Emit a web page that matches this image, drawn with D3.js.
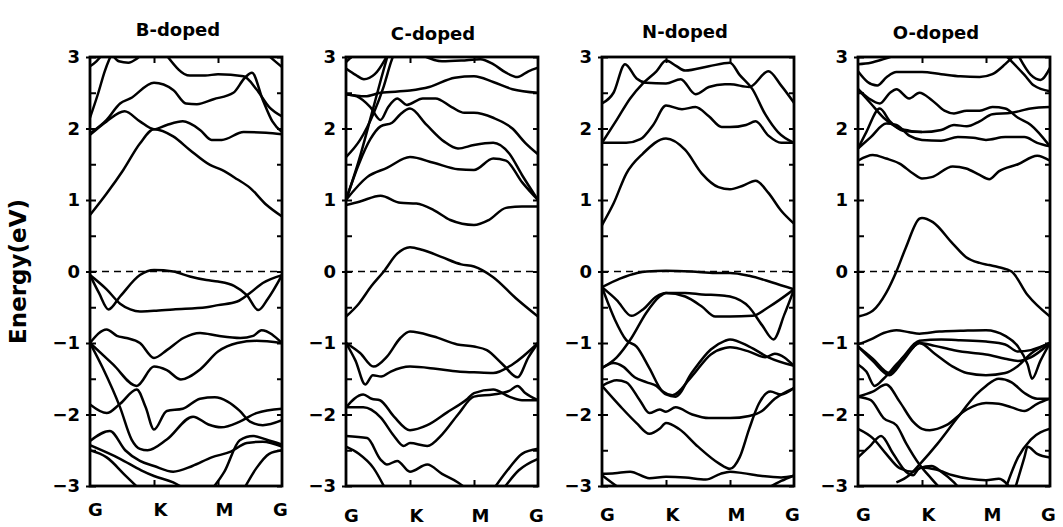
<!DOCTYPE html>
<html><head><meta charset="utf-8">
<script src="https://cdn.jsdelivr.net/npm/d3@7"></script>
<style>
body{margin:0;background:#fff}
svg text{font-family:"DejaVu Sans",sans-serif;font-weight:bold;fill:#000}
</style>
</head><body>
<svg id="chart" width="1063" height="527"></svg>
<script>
// ---------------- data ----------------
const panelTitles = ["B-doped", "C-doped", "N-doped", "O-doped"];
const kLabels = ["G", "K", "M", "G"];
const kPositions = [0, 1, 2, 3];
const energyTicks = [3, 2, 1, 0, -1, -2, -3];
const fermiLevel = 0;

// band structures: each band is a list of [k-path coordinate, energy eV]
const bandsB = [
  [[0,0.79],[0.26,1.09],[0.52,1.42],[0.78,1.79],[1,1.99],[1.3,1.89],[1.56,1.7],[1.875,1.49],[2.06,1.42],[2.3,1.29],[2.5,1.17],[2.76,0.93],[3,0.77]],
  [[0,1.91],[0.26,2.1],[0.54,2.24],[0.78,2.1],[1,1.99],[1.2,2.05],[1.45,2.1],[1.72,1.98],[1.9,1.84],[2.06,1.84],[2.4,1.95],[2.75,1.94],[3,1.92]],
  [[0,1.93],[0.26,2.12],[0.47,2.35],[0.63,2.42],[1,2.64],[1.3,2.54],[1.5,2.35],[1.67,2.34],[1.93,2.41],[2.24,2.5],[2.42,2.71],[2.53,2.78],[2.7,2.4],[2.85,2.1],[3,1.95]],
  [[1.2,3.02],[1.56,2.74],[1.8,2.74],[2.0,2.76],[2.4,2.73],[2.6,2.55],[2.8,2.3],[3,2.17]],
  [[0,2.15],[0.13,2.5],[0.23,2.8],[0.34,3.05]],
  [[0,2.87],[0.1,2.94],[0.18,3.02]],
  [[0.35,3.03],[0.45,2.94],[0.6,2.92],[0.72,2.97],[0.8,3.03]],
  [[2.75,3.05],[2.88,2.95],[3,2.86]],
  [[0,-0.05],[0.14,-0.3],[0.29,-0.53],[0.47,-0.35],[0.78,-0.05],[1,0.02],[1.3,0],[1.56,-0.07],[1.82,-0.12],[2.0,-0.14],[2.25,-0.2],[2.45,-0.33],[2.63,-0.54],[2.78,-0.38],[3,-0.05]],
  [[0,-0.05],[0.26,-0.25],[0.47,-0.45],[0.63,-0.53],[0.78,-0.56],[1.0,-0.55],[1.3,-0.53],[1.82,-0.5],[2.0,-0.47],[2.3,-0.42],[2.5,-0.3],[2.7,-0.16],[3,-0.05]],
  [[0,-1],[0.26,-0.81],[0.42,-0.9],[0.57,-0.93],[0.78,-1.0],[1.0,-1.21],[1.2,-1.1],[1.46,-0.93],[1.72,-0.86],[2.0,-0.9],[2.35,-0.93],[2.55,-0.9],[2.68,-0.82],[3,-1.0]],
  [[0,-1],[0.36,-1.3],[0.73,-1.6],[1,-1.33],[1.2,-1.38],[1.42,-1.51],[1.72,-1.37],[2.0,-1.12],[2.3,-1.0],[2.6,-0.97],[3,-1.0]],
  [[0,-1.0],[0.2,-1.35],[0.47,-1.9],[0.65,-2.35],[0.78,-2.48],[0.9,-2.5],[1.2,-2.35],[1.61,-2.03],[1.85,-2.14],[2.05,-2.18],[2.34,-2.1],[2.6,-1.98],[3,-1.92]],
  [[0,-1.86],[0.26,-1.98],[0.47,-1.85],[0.73,-1.65],[0.87,-1.9],[1,-2.21],[1.2,-1.95],[1.45,-1.92],[1.72,-1.78],[1.95,-1.76],[2.15,-1.82],[2.34,-1.95],[2.5,-2.1],[2.7,-2.15],[3,-2.08]],
  [[0,-2.37],[0.31,-2.23],[0.55,-2.5],[0.78,-2.65],[1,-2.72],[1.3,-2.8],[1.6,-2.72],[1.9,-2.6],[2.2,-2.52],[2.45,-2.4],[2.7,-2.38],[3,-2.45]],
  [[0,-2.43],[0.47,-2.62],[0.8,-2.78],[1.0,-2.86],[1.3,-2.95],[1.5,-3.05]],
  [[0,-2.5],[0.26,-2.6],[0.55,-2.85],[0.78,-3.05]],
  [[1.9,-3.05],[2.1,-2.8],[2.34,-2.36],[2.55,-2.3],[2.75,-2.35],[3,-2.42]],
  [[2.4,-3.05],[2.6,-2.75],[2.8,-2.55],[3,-2.5]]
];

const bandsC = [
  [[0,0.93],[0.22,0.98],[0.54,1.06],[0.85,0.96],[1.1,0.95],[1.37,0.86],[1.63,0.72],[2.0,0.65],[2.23,0.72],[2.5,0.89],[2.75,0.91],[3,0.91]],
  [[0,1.0],[0.33,1.32],[0.64,1.45],[1.0,1.6],[1.37,1.52],[1.75,1.43],[2.0,1.42],[2.3,1.58],[2.5,1.55],[2.75,1.25],[3,1.0]],
  [[0,1.0],[0.2,1.5],[0.38,1.85],[0.54,2.03],[0.72,2.08],[0.85,2.2],[1.0,2.28],[1.26,2.05],[1.53,1.82],[1.75,1.72],[2.0,1.77],[2.3,1.8],[2.55,1.65],[2.75,1.35],[3,1.0]],
  [[0,1.6],[0.22,1.84],[0.43,2.21],[0.59,2.59],[0.7,2.92],[0.75,3.05]],
  [[0,1.0],[0.2,1.55],[0.4,2.2],[0.55,2.7],[0.66,3.05]],
  [[0,2.48],[0.17,2.45],[0.38,2.3],[0.54,2.12],[0.66,2.3],[0.8,2.42],[0.95,2.33],[1.2,2.42],[1.4,2.42],[1.65,2.3],[1.85,2.22],[2.0,2.22],[2.3,2.15],[2.6,2.0],[2.8,1.8],[3,1.64]],
  [[0,2.48],[0.3,2.45],[0.54,2.5],[1.0,2.53],[1.3,2.58],[1.7,2.71],[2.0,2.73],[2.3,2.65],[2.6,2.55],[3,2.5]],
  [[1.2,3.02],[1.5,2.94],[1.8,2.95],[2.1,2.97],[2.3,2.9],[2.5,2.78],[2.68,2.72],[2.85,2.8],[3,2.85]],
  [[0,2.84],[0.15,2.75],[0.28,2.69],[0.45,2.76],[0.6,2.95],[0.66,3.05]],
  [[0,2.93],[0.12,3.03]],
  [[0,-0.63],[0.2,-0.45],[0.4,-0.2],[0.59,0.0],[0.8,0.25],[1.0,0.34],[1.2,0.3],[1.5,0.2],[1.8,0.1],[2.0,0.07],[2.3,-0.08],[2.65,-0.37],[3,-0.63]],
  [[0,-1.0],[0.22,-1.14],[0.43,-1.33],[0.64,-1.19],[0.85,-0.93],[1.0,-0.84],[1.37,-0.91],[1.74,-1.02],[2.0,-1.05],[2.2,-1.1],[2.45,-1.3],[2.68,-1.48],[2.85,-1.2],[3,-1.0]],
  [[0,-1],[0.15,-1.25],[0.3,-1.58],[0.42,-1.45],[0.55,-1.47],[0.7,-1.4],[1.0,-1.33],[1.4,-1.36],[1.75,-1.4],[2.0,-1.41],[2.3,-1.42],[2.6,-1.3],[3,-1.0]],
  [[0,-1.9],[0.27,-1.72],[0.4,-1.78],[0.53,-1.8],[0.75,-2.03],[1.0,-2.22],[1.27,-2.15],[1.58,-1.97],[1.9,-1.78],[2.0,-1.7],[2.3,-1.65],[2.55,-1.75],[2.75,-1.8],[3,-1.8]],
  [[0,-1.9],[0.27,-1.9],[0.54,-2.04],[0.75,-2.3],[0.9,-2.44],[1.0,-2.4],[1.27,-2.44],[1.5,-2.28],[1.75,-2.0],[2.0,-1.75],[2.3,-1.72],[2.55,-1.67],[2.68,-1.6],[2.8,-1.7],[3,-1.8]],
  [[0,-2.3],[0.33,-2.33],[0.54,-2.63],[0.64,-2.7],[0.8,-2.65],[1.0,-2.8],[1.27,-2.7],[1.5,-2.83],[1.75,-2.95],[1.9,-3.05]],
  [[0,-2.45],[0.2,-2.55],[0.43,-2.75],[0.62,-3.05]],
  [[2.3,-3.05],[2.55,-2.75],[2.75,-2.55],[3,-2.48]],
  [[2.45,-3.05],[2.7,-2.78],[3,-2.62]]
];

const bandsN = [
  [[0,0.65],[0.18,0.95],[0.38,1.37],[0.64,1.65],[1.0,1.86],[1.3,1.7],[1.56,1.37],[1.82,1.18],[2.0,1.15],[2.2,1.2],[2.4,1.27],[2.6,1.1],[2.8,0.85],[3,0.67]],
  [[0,1.8],[0.38,1.8],[0.6,1.85],[0.8,2.05],[1.0,2.32],[1.25,2.27],[1.46,2.3],[1.67,2.17],[1.87,2.02],[2.0,2.02],[2.25,2.05],[2.4,2.1],[2.6,1.9],[2.8,1.8],[3,1.8]],
  [[0,1.8],[0.23,2.12],[0.44,2.42],[0.64,2.63],[0.85,2.8],[1.0,2.95],[1.15,2.88],[1.3,2.81],[1.67,2.87],[2.0,2.92],[2.15,2.75],[2.35,2.55],[2.55,2.2],[2.75,1.95],[3,1.8]],
  [[0,2.35],[0.18,2.5],[0.36,2.9],[0.54,2.7],[0.69,2.64],[1.0,2.63],[1.23,2.69],[1.46,2.48],[1.67,2.58],[1.92,2.62],[2.0,2.62],[2.3,2.58],[2.6,2.8],[2.8,2.6],[3,2.36]],
  [[0,-0.22],[0.28,-0.1],[0.55,-0.02],[0.7,0.0],[1.0,0.01],[1.4,0],[1.77,-0.02],[2.0,-0.02],[2.3,-0.06],[2.65,-0.15],[3,-0.25]],
  [[0,-0.22],[0.23,-0.4],[0.46,-0.62],[0.64,-0.53],[0.85,-0.35],[1.0,-0.3],[1.3,-0.35],[1.56,-0.49],[1.77,-0.63],[2.0,-0.63],[2.35,-0.62],[2.6,-0.5],[3,-0.25]],
  [[0,-1.35],[0.23,-1.2],[0.46,-0.93],[0.69,-0.58],[0.9,-0.35],[1.0,-0.3],[1.3,-0.3],[1.56,-0.32],[1.92,-0.34],[2.0,-0.35],[2.3,-0.5],[2.5,-0.75],[2.68,-0.95],[2.85,-0.6],[3,-0.25]],
  [[0,-0.22],[0.2,-0.67],[0.38,-0.96],[0.54,-1.05],[0.74,-1.35],[0.95,-1.68],[1.1,-1.73],[1.4,-1.47],[1.7,-1.16],[1.92,-1.07],[2.0,-1.06],[2.3,-1.12],[2.55,-1.2],[2.7,-1.15],[3,-1.32]],
  [[0,-1.35],[0.18,-1.28],[0.33,-1.33],[0.51,-1.48],[0.7,-1.55],[0.85,-1.6],[1.0,-1.72],[1.15,-1.75],[1.4,-1.42],[1.7,-1.09],[1.92,-0.97],[2.0,-0.95],[2.3,-1.05],[2.6,-1.2],[3,-1.32]],
  [[0,-1.6],[0.23,-1.52],[0.38,-1.55],[0.59,-1.8],[0.74,-1.98],[0.9,-1.93],[1.0,-1.96],[1.15,-1.9],[1.41,-2.0],[1.67,-2.05],[2.0,-2.05],[2.3,-2.02],[2.5,-1.95],[2.7,-1.78],[3,-1.63]],
  [[0,-1.6],[0.28,-1.88],[0.54,-2.12],[0.74,-2.27],[0.9,-2.2],[1.0,-2.12],[1.2,-2.2],[1.5,-2.45],[1.82,-2.68],[2.0,-2.76],[2.15,-2.6],[2.3,-2.2],[2.45,-1.85],[2.63,-1.68],[2.8,-1.72],[3,-1.63]],
  [[0,-2.83],[0.2,-2.82],[0.44,-2.8],[0.74,-2.89],[1.0,-2.87],[1.3,-2.88],[1.62,-2.91],[1.85,-2.83],[2.0,-2.8],[2.2,-2.82],[2.5,-2.86],[2.8,-2.88],[3,-2.86]],
  [[2.55,-3.05],[2.8,-2.93],[3,-2.85]],
  [[0,-2.85],[0.15,-2.95],[0.3,-3.05]]
];

const bandsO = [
  [[0,-0.63],[0.23,-0.55],[0.44,-0.3],[0.6,0.0],[0.75,0.34],[0.96,0.74],[1.0,0.75],[1.17,0.69],[1.48,0.39],[1.69,0.2],[1.9,0.12],[2.05,0.09],[2.2,0.06],[2.4,0.0],[2.65,-0.33],[3,-0.63]],
  [[0,1.55],[0.23,1.63],[0.44,1.58],[0.65,1.51],[0.86,1.37],[1.0,1.3],[1.15,1.32],[1.48,1.47],[1.69,1.44],[1.9,1.35],[2.05,1.29],[2.2,1.4],[2.5,1.5],[2.8,1.62],[3,1.55]],
  [[0,1.72],[0.13,1.95],[0.34,2.28],[0.5,2.1],[0.7,1.97],[1.0,1.95],[1.3,1.98],[1.5,2.05],[1.7,2.03],[1.9,2.1],[2.1,2.2],[2.4,2.22],[2.7,2.28],[3,2.3]],
  [[0,1.72],[0.2,1.88],[0.44,2.07],[0.6,2.05],[0.8,1.9],[1.0,1.84],[1.3,1.83],[1.56,1.88],[1.8,1.87],[2.0,1.84],[2.3,1.88],[2.6,1.88],[2.8,1.8],[3,1.75]],
  [[0,2.55],[0.17,2.42],[0.34,2.35],[0.5,2.5],[0.6,2.55],[0.8,2.42],[0.96,2.5],[1.15,2.4],[1.35,2.25],[1.5,2.21],[1.7,2.25],[1.9,2.25],[2.1,2.3],[2.3,2.28],[2.5,2.15],[2.7,2.05],[3,1.75]],
  [[0,2.55],[0.2,2.35],[0.4,2.15],[0.6,2.02],[0.8,1.97],[1.0,1.95]],
  [[0,2.8],[0.15,2.65],[0.3,2.6],[0.45,2.72],[0.6,2.79],[1.0,2.79],[1.3,2.76],[1.6,2.73],[1.9,2.72],[2.1,2.76],[2.3,2.9],[2.45,3.03]],
  [[0,2.9],[0.2,2.92],[0.4,2.97],[0.6,3.03]],
  [[2.3,3.03],[2.6,2.75],[2.75,2.6],[3,2.52]],
  [[2.5,3.03],[2.7,2.75],[2.85,2.68],[3,2.85]],
  [[0,-1.02],[0.2,-0.95],[0.4,-0.86],[0.6,-0.82],[0.8,-0.85],[0.96,-0.87],[1.27,-0.84],[1.6,-0.83],[2.0,-0.82],[2.3,-0.9],[2.5,-1.05],[2.65,-1.3],[2.72,-1.5],[2.85,-1.25],[3,-1.0]],
  [[0,-1.05],[0.23,-1.22],[0.49,-1.42],[0.7,-1.2],[0.96,-0.97],[1.3,-0.95],[1.6,-0.96],[2.0,-0.98],[2.3,-1.02],[2.5,-1.12],[2.7,-1.1],[3,-1.0]],
  [[0,-1.05],[0.23,-1.25],[0.49,-1.45],[0.7,-1.25],[0.96,-1.0],[1.2,-1.15],[1.48,-1.33],[1.7,-1.42],[2.0,-1.45],[2.3,-1.42],[2.5,-1.32],[2.7,-1.15],[3,-1.0]],
  [[0,-1.3],[0.13,-1.4],[0.26,-1.6],[0.4,-1.5],[0.6,-1.3],[0.8,-1.12],[0.96,-1.0],[1.2,-1.04],[1.5,-1.1],[1.8,-1.14],[2.0,-1.16],[2.3,-1.22],[2.5,-1.25],[2.7,-1.2],[3,-1.0]],
  [[0,-1.75],[0.23,-1.68],[0.44,-1.58],[0.65,-1.82],[0.86,-2.1],[1.0,-2.2],[1.12,-2.22],[1.38,-2.15],[1.7,-1.93],[2.0,-1.84],[2.2,-1.85],[2.4,-1.9],[2.6,-1.95],[2.8,-1.85],[3,-1.78]],
  [[0,-1.75],[0.2,-1.8],[0.4,-2.05],[0.6,-2.15],[0.75,-2.4],[0.96,-2.7],[1.15,-2.9],[1.3,-3.05]],
  [[0.6,-2.95],[0.8,-2.85],[0.96,-2.7],[1.25,-2.4],[1.55,-2.05],[1.85,-1.72],[2.0,-1.6],[2.2,-1.5],[2.4,-1.55],[2.6,-1.7],[2.8,-1.78],[3,-1.78]],
  [[0,-2.2],[0.23,-2.33],[0.44,-2.55],[0.65,-2.75],[0.86,-2.8],[1.0,-2.74],[1.22,-2.77],[1.48,-2.85],[1.74,-2.9],[2.0,-2.92],[2.2,-2.9],[2.4,-3.05]],
  [[0,-2.6],[0.18,-2.45],[0.36,-2.3],[0.55,-2.55],[0.75,-2.8],[0.86,-2.85],[0.96,-2.75],[1.15,-2.72],[1.3,-2.8],[1.5,-2.95],[1.6,-3.05]],
  [[2.3,-3.05],[2.5,-2.6],[2.7,-2.35],[3,-2.2]],
  [[2.45,-3.05],[2.6,-2.6],[2.65,-2.45],[2.8,-2.55],[3,-2.6]]
];

const panelBands = [bandsB, bandsC, bandsN, bandsO];

// ---------------- layout ----------------
const svg = d3.select("#chart");
const panelLeft = [90, 346, 602, 858];
const panelWidth = 192;
const plotTop = 57, plotBottom = 486;
const titleX = [178, 433, 685, 936];
const titleY = [36, 40, 38, 39];
const kLabelY = [516, 522, 521, 521];
const kLabelDx = [5, 6, 6, -2];

const y = d3.scaleLinear().domain([-3, 3]).range([plotBottom, plotTop]);
const halfTicks = d3.range(-3, 3.001, 0.5);

svg.append("text")
  .attr("transform", `translate(26,${(plotTop + plotBottom) / 2}) rotate(-90)`)
  .attr("text-anchor", "middle")
  .style("font-size", "23px")
  .text("Energy(eV)");

panelBands.forEach((bands, i) => {
  const x0 = panelLeft[i], x1 = panelLeft[i] + panelWidth;
  const x = d3.scaleLinear().domain([0, 3]).range([x0, x1]);
  const g = svg.append("g");

  const clipId = "clip" + i;
  svg.append("clipPath").attr("id", clipId)
    .append("rect").attr("x", x0).attr("y", plotTop).attr("width", panelWidth).attr("height", plotBottom - plotTop);

  // Fermi level
  g.append("line")
    .attr("x1", x(0)).attr("x2", x(3)).attr("y1", y(fermiLevel)).attr("y2", y(fermiLevel))
    .attr("stroke", "#000").attr("stroke-width", 1.5).attr("stroke-dasharray", "7,5");

  const line = d3.line().x(d => x(d[0])).y(d => y(d[1])).curve(d3.curveMonotoneX);
  g.append("g").attr("clip-path", `url(#${clipId})`)
    .selectAll("path").data(bands).join("path")
    .attr("d", line).attr("fill", "none").attr("stroke", "#000")
    .attr("stroke-width", 2.5).attr("stroke-linejoin", "round");

  // left axis: labels + outward part of major ticks
  const la = g.append("g").attr("transform", `translate(${x0},0)`)
    .call(d3.axisLeft(y).tickValues(energyTicks).tickSize(4).tickPadding(6).tickFormat(d3.format("d")));
  la.selectAll("text").style("font-size", "18px");
  // left axis inward ticks
  g.append("g").attr("transform", `translate(${x0},0)`)
    .call(d3.axisRight(y).tickValues(halfTicks).tickSize(6).tickFormat(""));
  // right axis inward ticks
  g.append("g").attr("transform", `translate(${x1},0)`)
    .call(d3.axisLeft(y).tickValues(halfTicks).tickSize(5).tickFormat(""));
  // top / bottom inward ticks at K, M
  g.append("g").attr("transform", `translate(0,${plotTop})`)
    .call(d3.axisBottom(x).tickValues([1, 2]).tickSize(6).tickFormat(""));
  g.append("g").attr("transform", `translate(0,${plotBottom})`)
    .call(d3.axisTop(x).tickValues([1, 2]).tickSize(6).tickFormat(""));
  // bottom labels
  const ba = g.append("g").attr("transform", `translate(0,${kLabelY[i]})`)
    .call(d3.axisBottom(x).tickValues(kPositions).tickSize(0).tickPadding(0).tickFormat((d, j) => kLabels[j]));
  ba.selectAll("text").attr("dy", 0).attr("dx", (d, j) => kLabelDx[j]).style("font-size", "18px");

  g.selectAll(".domain").remove();
  g.selectAll(".tick line").attr("stroke", "#000").attr("stroke-width", 2);

  // frame
  g.append("rect").attr("x", x0).attr("y", plotTop).attr("width", panelWidth).attr("height", plotBottom - plotTop)
    .attr("fill", "none").attr("stroke", "#000").attr("stroke-width", 2.8);

  svg.append("text").attr("x", titleX[i]).attr("y", titleY[i])
    .attr("text-anchor", "middle").style("font-size", "18px").text(panelTitles[i]);
});
</script>
</body></html>
